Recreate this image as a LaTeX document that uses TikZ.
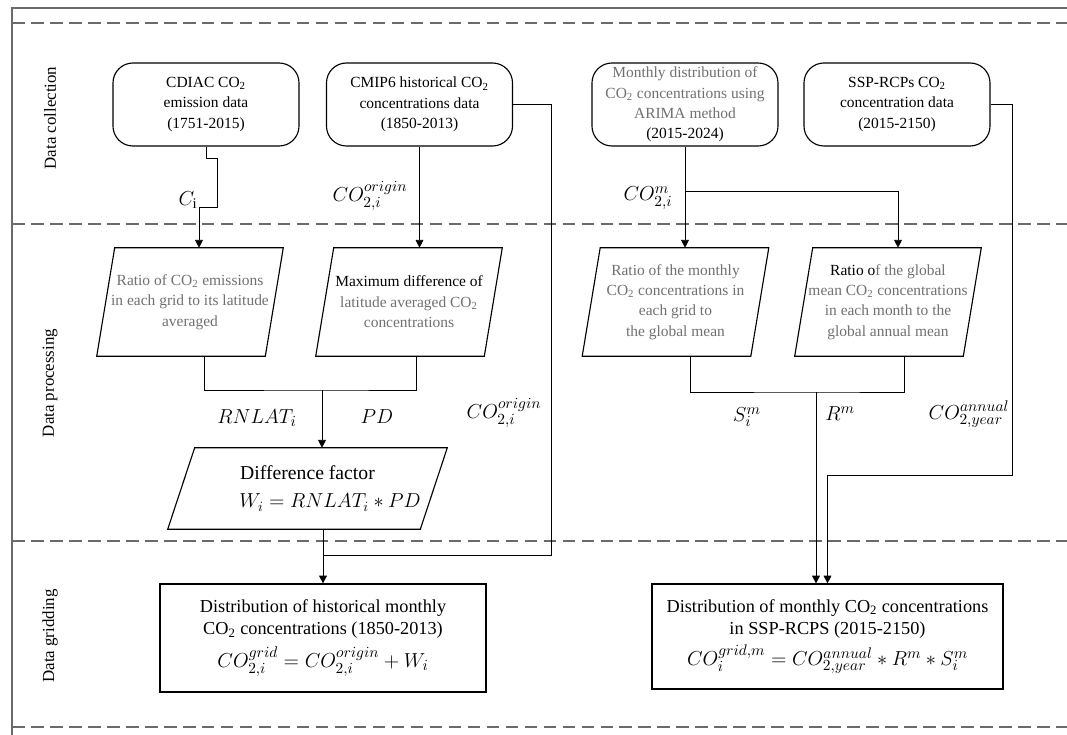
\documentclass[tikz,border=0pt]{standalone}
\usepackage{fontspec}
\setmainfont{Liberation Serif}
\usepackage{tikz}
\usetikzlibrary{arrows.meta,calc}
\definecolor{txtgray}{HTML}{707070}
\definecolor{linegray}{HTML}{6a6a6a}
\newcommand\mathsz{\fontsize{15}{18}\selectfont}
% parallelogram round a plain node: #1 node name, #2 half slant
\newcommand\slantbox[2]{%
  \draw[line width=0.8pt] ($(#1.north west)+(#2,0)$) -- ($(#1.north east)+(#2,0)$)
    -- ($(#1.south east)+(-#2,0)$) -- ($(#1.south west)+(-#2,0)$) -- cycle;}

\begin{document}
\begin{tikzpicture}[x=0.025cm,y=-0.025cm,>={Triangle[length=5.5pt,width=5.5pt]},
  src/.style={draw,line width=0.8pt,rounded corners=0.5cm,align=center,minimum width=4.65cm,
    minimum height=2.075cm,inner sep=1pt,font=\fontsize{11}{14.5}\selectfont},
  para/.style={align=center,minimum width=4.2cm,minimum height=2.7cm,inner sep=0pt,
    text=txtgray,font=\fontsize{11}{14.5}\selectfont},
  gridbox/.style={draw,line width=0.8pt,align=center,font=\fontsize{13}{15.6}\selectfont},
  sym/.style={font=\mathsz,inner sep=1pt},
  lane/.style={rotate=90,font=\fontsize{12}{14}\selectfont},
  sep/.style={linegray,dash pattern=on 9pt off 4.5pt,line width=0.8pt},
  link/.style={line width=0.5pt}]
\useasboundingbox (0,0) rectangle (1067,735);

% frame and lanes
\draw[linegray,line width=0.8pt] (1067,8) -- (12,8) -- (12,735);
\foreach \yy in {23,224,541,727}
  \draw[sep] (12,\yy) -- (1067,\yy);
\node[lane] (lcol) at (50,118) {Data collection};
\node[lane] (lpro) at (50,383) {Data processing};
\node[lane] (lgrd) at (50,636) {Data gridding};

% data collection
\node[src] (cdiac) at (206,104.5) {CDIAC CO\textsubscript{2}\\ emission data\\ (1751-2015)};
\node[src] (cmip) at (419.5,104.5) {CMIP6 historical CO\textsubscript{2}\\ concentrations data\\ (1850-2013)};
\node[src,text=txtgray] (arima) at (685,104.5) {Monthly distribution of\\ CO\textsubscript{2} concentrations using\\ ARIMA method\\ \textcolor{black}{(2015-2024)}};
\node[src] (ssp) at (897,104.5) {SSP-RCPs CO\textsubscript{2}\\ concentration data\\ (2015-2150)};

% data processing
\node[para] (ratioE) at (190,302) {Ratio of CO\textsubscript{2} emissions\\ in each grid to its latitude\\ averaged};
\node[para] (maxdiff) at (409,302) {\textcolor{black}{Maximum difference of}\\ latitude averaged CO\textsubscript{2}\\ concentrations};
\node[para] (ratioM) at (675.5,302) {Ratio of the monthly\\ CO\textsubscript{2} concentrations in\\ each grid to\\ the global mean};
\node[para] (ratioG) at (888,302) {\textcolor{black}{Ratio o}f the global\\ mean CO\textsubscript{2} concentrations\\ in each month to the\\ global annual mean};
\node[para,minimum width=6.3cm,minimum height=2.025cm,text=black,font=\fontsize{14}{20}\selectfont] (diff) at (307.5,488.5)
  {Difference factor\\ \hspace*{32pt}$W_i=RNLAT_i*PD$};
\slantbox{ratioE}{9}
\slantbox{maxdiff}{9}
\slantbox{ratioM}{9}
\slantbox{ratioG}{9}
\slantbox{diff}{13.5}

% data gridding
\node[gridbox,minimum width=8.15cm,minimum height=2.7cm] (histgrid) at (323,638)
  {Distribution of historical monthly\\ CO\textsubscript{2} concentrations (1850-2013)\\[5pt]
   {\mathsz$CO_{2,i}^{grid}=CO_{2,i}^{origin}+W_i$}};
\node[gridbox,minimum width=8.775cm,minimum height=2.625cm] (sspgrid) at (827.5,636.5)
  {Distribution of monthly CO\textsubscript{2} concentrations\\ in SSP-RCPS (2015-2150)\\[4pt]
   {\mathsz$CO_{i}^{grid,m}=CO_{2,year}^{annual}*R^m*S_i^m$}};

% symbols on the links
\node[sym] (ci) at (188,200) {$C_{\mathrm{i}}$};
\node[sym] (coA) at (370,196) {$CO_{2,i}^{origin}$};
\node[sym] (com) at (648,198) {$CO_{2,i}^{m}$};
\node[sym] (rn) at (257,418) {$RNLAT_i$};
\node[sym] (pd) at (377,417) {$PD$};
\node[sym] (coB) at (504,413) {$CO_{2,i}^{origin}$};
\node[sym] (sm) at (747,417) {$S_i^m$};
\node[sym] (rm) at (840,414) {$R^m$};
\node[sym] (coy) at (969,414) {$CO_{2,year}^{annual}$};

% links
\draw[link,->] (cdiac.south) -- ++(0,12) -- ++(11,0) -- ++(0,49) -- ++(-18,0) coordinate (cturn)
  -- (cturn |- ratioE.north);
\draw[link,->] (cmip.south) -- (cmip.south |- maxdiff.north);
\draw[link] (cmip.east) -- ++(38,0) |- ($(histgrid.north)+(0,-28)$);
\draw[link,->] (arima.south) -- (arima.south |- ratioM.north);
\draw[link,->] (arima.south) ++(0,45) -| ($(ratioG.north)+(10,0)$);
\draw[link,->] (ssp.east) -- ++(22,0) |- ($(sspgrid.north)+(0,-108)$) -- (sspgrid.north);

\coordinate (jA) at (322,390);
\draw[link] ($(ratioE.south)+(14,0)$) |- (jA) -| ($(maxdiff.south)+(7,0)$);
\draw[link,->] (jA) -- (jA |- diff.north);
\draw[link,->] (diff.south -| histgrid.north) -- (histgrid.north);

\coordinate (jB) at (816,392);
\draw[link] ($(ratioM.south)+(14.5,0)$) |- (jB) -| ($(ratioG.south)+(16,0)$);
\draw[link,->] (jB) -- (jB |- sspgrid.north);
\end{tikzpicture}
\end{document}
